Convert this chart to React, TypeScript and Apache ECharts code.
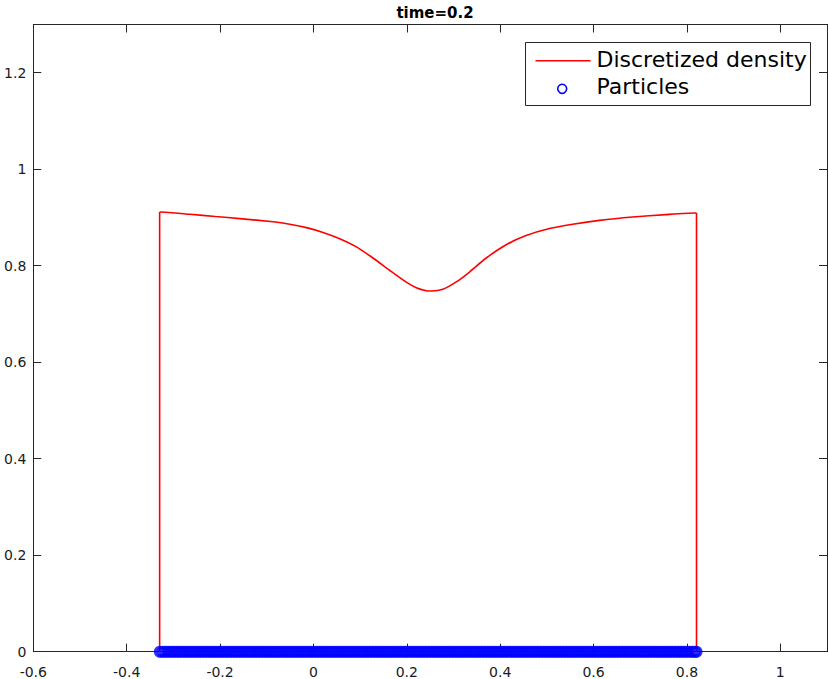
import React, { useEffect, useRef } from "react";
import * as echarts from "echarts";

const titleText = "time=0.2";
const densityName = "Discretized density";
const particlesName = "Particles";

const densityX = [
  -0.3294, -0.3266, -0.2646, -0.21, -0.1576, -0.0864, -0.0507, -0.015,
  0.0206, 0.0563, 0.092, 0.1275, 0.1632, 0.1989, 0.2203, 0.2417, 0.2524,
  0.2773, 0.3059, 0.3343, 0.37, 0.4128, 0.4556, 0.5055, 0.5553, 0.6124, 0.6836,
  0.755, 0.8178, 0.8205,
];
const densityY = [
  0.9114, 0.9114, 0.9066, 0.902, 0.8977, 0.891, 0.886, 0.879,
  0.869, 0.856, 0.839, 0.816, 0.7906, 0.766, 0.7545, 0.7482, 0.7477,
  0.7512, 0.7664, 0.787, 0.816, 0.8435, 0.8625, 0.877, 0.886, 0.894, 0.901,
  0.906, 0.9093, 0.9093,
];

const particleX = [
  -0.329, -0.323, -0.317, -0.311, -0.305, -0.299, -0.293, -0.287, -0.281, -0.275,
  -0.269, -0.263, -0.257, -0.251, -0.245, -0.239, -0.233, -0.227, -0.221, -0.215,
  -0.209, -0.203, -0.197, -0.191, -0.185, -0.179, -0.173, -0.167, -0.161, -0.155,
  -0.149, -0.143, -0.137, -0.131, -0.125, -0.119, -0.113, -0.107, -0.101, -0.095,
  -0.089, -0.083, -0.077, -0.071, -0.065, -0.059, -0.053, -0.047, -0.041, -0.035,
  -0.029, -0.023, -0.017, -0.011, -0.005, 0.001, 0.007, 0.013, 0.019, 0.025,
  0.031, 0.037, 0.043, 0.049, 0.055, 0.061, 0.067, 0.073, 0.079, 0.085,
  0.091, 0.097, 0.103, 0.109, 0.115, 0.121, 0.127, 0.133, 0.139, 0.145,
  0.151, 0.157, 0.163, 0.169, 0.175, 0.181, 0.187, 0.193, 0.199, 0.205,
  0.211, 0.217, 0.223, 0.229, 0.235, 0.241, 0.247, 0.253, 0.259, 0.265,
  0.271, 0.277, 0.283, 0.289, 0.295, 0.301, 0.307, 0.313, 0.319, 0.325,
  0.331, 0.337, 0.343, 0.349, 0.355, 0.361, 0.367, 0.373, 0.379, 0.385,
  0.391, 0.397, 0.403, 0.409, 0.415, 0.421, 0.427, 0.433, 0.439, 0.445,
  0.451, 0.457, 0.463, 0.469, 0.475, 0.481, 0.487, 0.493, 0.499, 0.505,
  0.511, 0.517, 0.523, 0.529, 0.535, 0.541, 0.547, 0.553, 0.559, 0.565,
  0.571, 0.577, 0.583, 0.589, 0.595, 0.601, 0.607, 0.613, 0.619, 0.625,
  0.631, 0.637, 0.643, 0.649, 0.655, 0.661, 0.667, 0.673, 0.679, 0.685,
  0.691, 0.697, 0.703, 0.709, 0.715, 0.721, 0.727, 0.733, 0.739, 0.745,
  0.751, 0.757, 0.763, 0.769, 0.775, 0.781, 0.787, 0.793, 0.799, 0.805,
  0.811, 0.8165, 0.8205,
];
const particleY = particleX.map(() => 0);

const xMin = -0.6;
const xMax = 1.1;
const xStep = 0.2;
const yMin = 0;
const yMax = 1.3;
const yStep = 0.2;

const FONT = "DejaVu Sans";
const AXIS_COLOR = "#262626";
const RED = "#ff0000";
const BLUE = "#0000ff";

const fmt = (v: number) => String(Math.round(v * 10) / 10);

export default function App() {
  const ref = useRef<HTMLDivElement>(null);

  useEffect(() => {
    if (!ref.current) return;
    const chart = echarts.init(ref.current, undefined, { renderer: "svg" });

    const axisCommon = {
      type: "value" as const,
      splitLine: { show: false },
      axisLine: { show: true, onZero: false, lineStyle: { color: AXIS_COLOR, width: 1 } },
      axisTick: { show: true, inside: true, length: 8, lineStyle: { color: AXIS_COLOR, width: 1 } },
    };

    const n = densityX.length;
    const leftEdge = [
      [densityX[0], 0],
      [densityX[0], densityY[0]],
    ];
    const rightEdge = [
      [densityX[n - 1], densityY[n - 1]],
      [densityX[n - 1], 0],
    ];

    const lineSeries = (data: number[][], smooth: number) => ({
      name: densityName,
      type: "line",
      xAxisIndex: 0,
      yAxisIndex: 0,
      data,
      symbol: "none",
      smooth,
      clip: false,
      lineStyle: { color: RED, width: 1.6 },
      z: 2,
    });

    chart.setOption({
      animation: false,
      backgroundColor: "#ffffff",
      title: {
        text: titleText,
        left: 430,
        top: 0,
        textAlign: "center",
        textStyle: { fontFamily: FONT, fontWeight: "bold", fontSize: 15, color: "#000" },
      },
      grid: { left: 33.3, top: 24.5, right: 1, bottom: 27.3, containLabel: false },
      xAxis: [
        {
          ...axisCommon,
          position: "bottom",
          min: xMin,
          max: xMax,
          interval: xStep,
          axisLabel: {
            show: true,
            showMaxLabel: false,
            margin: 13,
            formatter: fmt,
            fontFamily: FONT,
            fontSize: 14,
            color: "#1a1a1a",
          },
        },
        {
          ...axisCommon,
          position: "top",
          min: xMin,
          max: xMax,
          interval: xStep,
          axisLabel: { show: false },
        },
      ],
      yAxis: [
        {
          ...axisCommon,
          position: "left",
          min: yMin,
          max: yMax,
          interval: yStep,
          axisLabel: {
            show: true,
            showMaxLabel: false,
            margin: 7,
            formatter: fmt,
            fontFamily: FONT,
            fontSize: 14,
            color: "#1a1a1a",
          },
        },
        {
          ...axisCommon,
          position: "right",
          min: yMin,
          max: yMax,
          interval: yStep,
          axisLabel: { show: false },
        },
      ],
      series: [
        lineSeries(leftEdge, 0),
        lineSeries(densityX.map((x, i) => [x, densityY[i]]), 0.2),
        lineSeries(rightEdge, 0),
        {
          name: particlesName,
          type: "scatter",
          xAxisIndex: 0,
          yAxisIndex: 0,
          data: particleX.map((x, i) => [x, particleY[i]]),
          symbol: "circle",
          symbolSize: 9,
          clip: false,
          itemStyle: { color: "rgba(0,0,0,0)", borderColor: BLUE, borderWidth: 3 },
          z: 3,
        },
      ],
      graphic: [
        {
          type: "group",
          left: 525,
          top: 42,
          children: [
            {
              type: "rect",
              shape: { x: 0, y: 0, width: 285, height: 63 },
              style: { fill: "#ffffff", stroke: AXIS_COLOR, lineWidth: 1 },
            },
            {
              type: "line",
              shape: { x1: 10, y1: 18.3, x2: 65, y2: 18.3 },
              style: { stroke: RED, lineWidth: 1.6 },
            },
            {
              type: "text",
              x: 71,
              y: 17,
              style: {
                text: densityName,
                font: `22px "${FONT}"`,
                fill: "#000",
                verticalAlign: "middle",
                align: "left",
              },
            },
            {
              type: "circle",
              shape: { cx: 36.7, cy: 46.3, r: 4.5 },
              style: { fill: "none", stroke: BLUE, lineWidth: 1.6 },
            },
            {
              type: "text",
              x: 71,
              y: 44,
              style: {
                text: particlesName,
                font: `22px "${FONT}"`,
                fill: "#000",
                verticalAlign: "middle",
                align: "left",
              },
            },
          ],
        },
      ],
    });

    return () => chart.dispose();
  }, []);

  return (
    <div
      ref={ref}
      style={{ position: "absolute", left: 0, top: 0, width: 828, height: 679, background: "#fff" }}
    />
  );
}
